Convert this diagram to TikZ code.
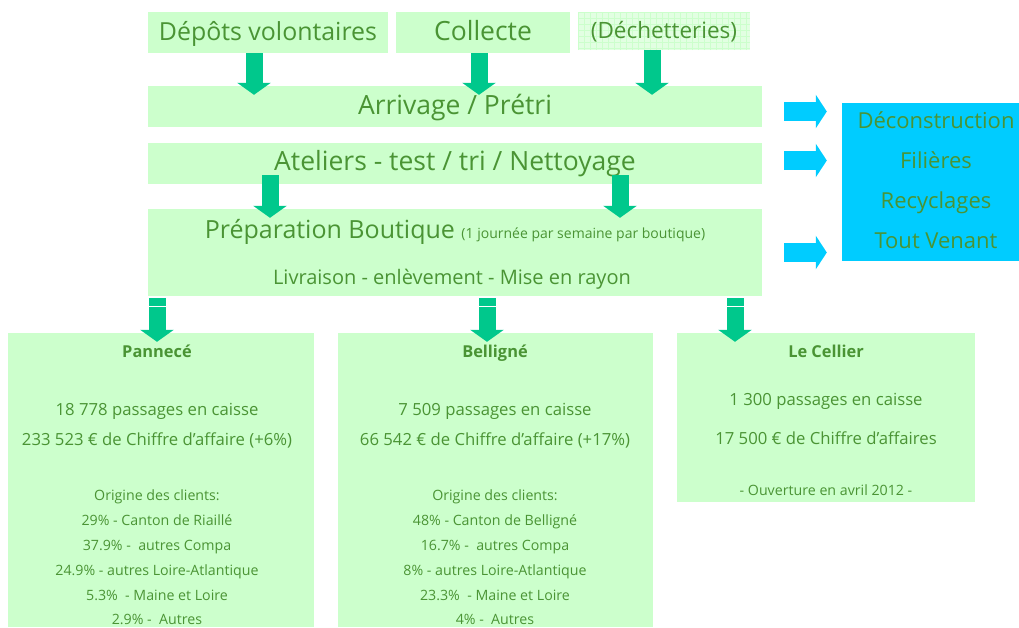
\documentclass[tikz,border=0pt]{standalone}
\usepackage{fontspec}
\setmainfont{Open Sans}
\usetikzlibrary{arrows.meta}
\definecolor{boxgreen}{RGB}{204,255,204}
\definecolor{palegreen}{RGB}{226,255,226}
\definecolor{txtgreen}{RGB}{74,148,52}
\definecolor{arrgreen}{RGB}{0,200,140}
\definecolor{cyanbox}{RGB}{0,204,255}
\tikzset{
	box/.style={fill=boxgreen, inner sep=0pt, text=txtgreen, minimum width=#1},
	txt/.style={text=txtgreen, inner sep=0pt, text height=0.74em, text depth=0.22em, yshift=-4pt},
	downarr/.style={draw=arrgreen, line width=17pt, -{Triangle[width=33pt, length=12pt]}},
	rightarr/.style={draw=cyanbox, line width=19pt, -{Triangle[width=33pt, length=11pt]}}
}
\begin{document}
\begin{tikzpicture}[x=1pt, y=-1pt, font=\fontsize{26.5}{30}\selectfont]
	\useasboundingbox (0,0) rectangle (1019,627);
	% sources
	\node[box=240pt, minimum height=41pt] (dep) at (268,32.5) {};
	\node[box=174pt, minimum height=41pt] (col) at (483,32.5) {};
	\node[box=172pt, minimum height=38pt, fill=palegreen] (dech) at (664,31) {};
	\begin{scope}
		\clip (dech.south west) rectangle (dech.north east);
		\draw[boxgreen, line width=0.6pt, step=6pt, xshift=2pt] (dech.south west) grid (dech.north east);
	\end{scope}
	\node[txt, font=\fontsize{24.9}{28}\selectfont] (depT) at (268,34) {D\'ep\^ots volontaires};
	\node[txt] (colT) at (483,34) {Collecte};
	\node[txt, font=\fontsize{22.5}{26}\selectfont] (dechT) at (664,32) {(D\'echetteries)};
	% chain
	\node[box=614pt, minimum height=41pt] (arr) at (455,106.5) {};
	\node[box=614pt, minimum height=41pt] (ate) at (455,163.5) {};
	\node[box=614pt, minimum height=87pt] (prep) at (455,252.5) {};
	\node[txt] (arrT) at (455,108) {Arrivage / Pr\'etri};
	\node[txt] (ateT) at (455,164) {Ateliers - test / tri / Nettoyage};
	\node[txt, font=\fontsize{25}{28}\selectfont] (prepT) at (455,232) {Pr\'eparation Boutique \fontsize{14}{16}\selectfont (1 journ\'ee par semaine par boutique)};
	\node[txt, font=\fontsize{20}{23}\selectfont] (prepL) at (452,278) {Livraison - enl\`evement - Mise en rayon};
	% outputs
	\node[fill=cyanbox, minimum width=177pt, minimum height=158pt, inner sep=0pt] (out) at (930.5,182) {};
	\foreach \y/\t in {122/D\'econstruction, 162/Fili\`eres, 202/Recyclages, 242/Tout Venant}
		\node[txt, font=\fontsize{22}{25}\selectfont] at (936,\y) {\t};
	\draw[rightarr, shorten <=22pt, shorten >=15pt] ([yshift=-5pt]arr.east) -- ([yshift=-5pt]arr.east -| out.west);
	\draw[rightarr, shorten <=22pt, shorten >=15pt] ([yshift=3pt]ate.east) -- ([yshift=3pt]ate.east -| out.west);
	\draw[rightarr, shorten <=22pt, shorten >=15pt] (prep.east) -- (prep.east -| out.west);
	% shops
	\node[box=306pt, minimum height=294pt] (pan) at (161,480) {};
	\node[box=315pt, minimum height=294pt] (bel) at (495.5,480) {};
	\node[box=298pt, minimum height=169pt] (cel) at (826,417.5) {};
	\begin{scope}[font=\fontsize{16.7}{19}\selectfont]
		\node[txt, font=\fontsize{16.4}{19}\selectfont\bfseries] (panT) at (157,351) {Pannec\'e};
		\node[txt] (pan1) at (157,409) {18 778 passages en caisse};
		\node[txt] (pan2) at (157,439) {233 523 \texteuro{} de Chiffre d'affaire (+6\%)};
		\node[txt, font=\fontsize{16.4}{19}\selectfont\bfseries] (belT) at (495,351) {Bellign\'e};
		\node[txt] (bel1) at (495,409) {7 509 passages en caisse};
		\node[txt] (bel2) at (495,439) {66 542 \texteuro{} de Chiffre d'affaire (+17\%)};
		\node[txt, font=\fontsize{16.4}{19}\selectfont\bfseries] (celT) at (826,351) {Le Cellier};
		\node[txt] (cel1) at (826,399) {1 300 passages en caisse};
		\node[txt] (cel2) at (826,438) {17 500 \texteuro{} de Chiffre d'affaires};
	\end{scope}
	\begin{scope}[font=\fontsize{14.2}{17}\selectfont]
		\node[txt] (cel3) at (826,489) {- Ouverture en avril 2012 -};
		\foreach \y/\t in {494/Origine des clients:, 519/29\% - Canton de Riaill\'e, 544/37.9\% -\ \ autres Compa, 569/24.9\% - autres Loire-Atlantique, 594/5.3\%\ \ - Maine et Loire, 618/2.9\% -\ \ Autres}
			\node[txt] at (157,\y) {\t};
		\foreach \y/\t in {494/Origine des clients:, 519/48\% - Canton de Bellign\'e, 544/16.7\% -\ \ autres Compa, 569/8\% - autres Loire-Atlantique, 594/23.3\%\ \ - Maine et Loire, 618/4\% -\ \ Autres}
			\node[txt] at (495,\y) {\t};
	\end{scope}
	% flow arrows
	\draw[downarr, shorten >=-9pt] (254,0 |- dep.south) -- (254,0 |- arr.north);
	\draw[downarr, shorten >=-9pt] (479,0 |- col.south) -- (479,0 |- arr.north);
	\draw[downarr, shorten >=-9pt] (652,0 |- dech.south) -- (652,0 |- arr.north);
	\draw[downarr, shorten <=-9pt, shorten >=-9pt] (270,0 |- ate.south) -- (270,0 |- prep.north);
	\draw[downarr, shorten <=-9pt, shorten >=-9pt] (620,0 |- ate.south) -- (620,0 |- prep.north);
	\foreach \x/\n in {157/pan, 487/bel, 735/cel}{
		\draw[downarr, shorten <=2pt, shorten >=-9pt] (\x,0 |- prep.south) -- (\x,0 |- \n.north);
		\draw[white, line width=1pt] (\x-9,306) -- (\x+9,306);
	}
\end{tikzpicture}
\end{document}
